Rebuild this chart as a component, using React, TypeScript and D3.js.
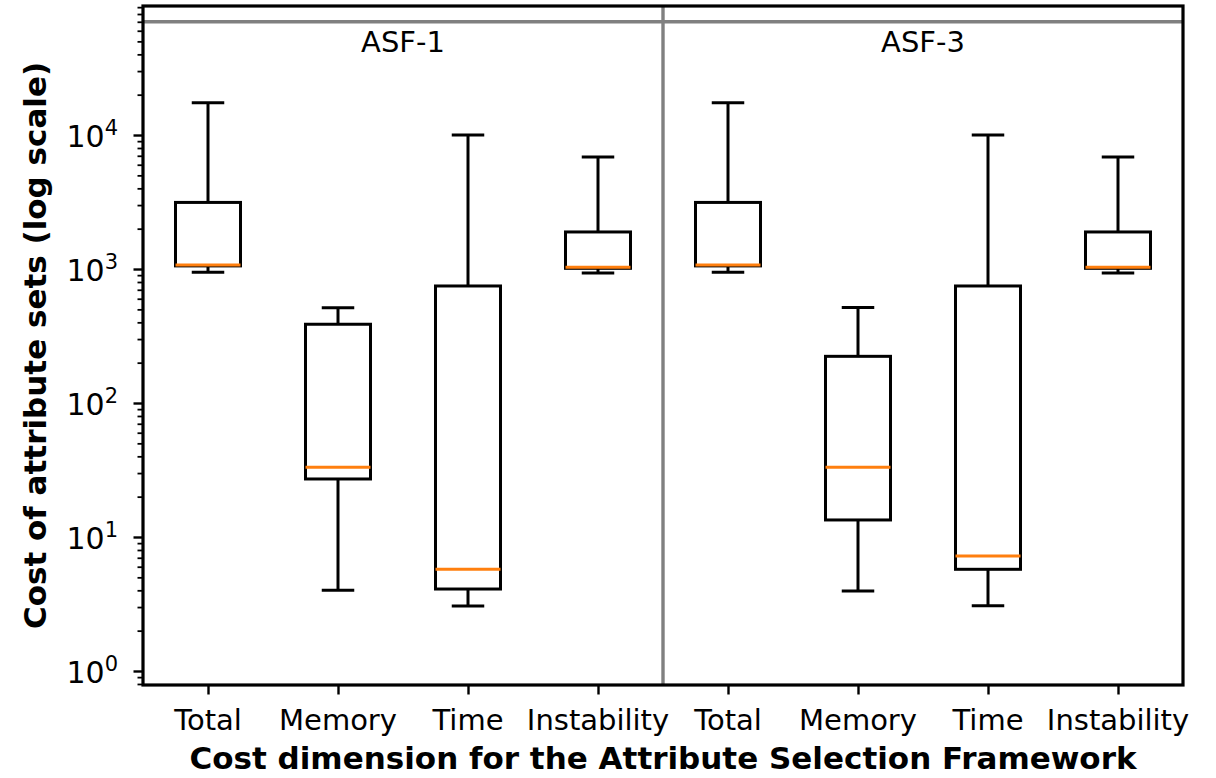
import { useEffect, useRef } from 'react'
import * as d3 from 'd3'

const categories = ['Total', 'Memory', 'Time', 'Instability']
const frameworks = ['ASF-1', 'ASF-3']

// five-number summaries, in category order
const asf1Low = [945, 4.0, 3.05, 933]
const asf1Q1 = [1055, 27.1, 4.09, 1012]
const asf1Median = [1071, 33.1, 5.74, 1030]
const asf1Q3 = [3140, 387, 747, 1890]
const asf1High = [17400, 514, 10000, 6850]

const asf3Low = [945, 3.95, 3.07, 933]
const asf3Q1 = [1055, 13.4, 5.74, 1012]
const asf3Median = [1071, 33.1, 7.21, 1030]
const asf3Q3 = [3140, 223, 747, 1890]
const asf3High = [17400, 517, 10000, 6850]

const yDomain = [0.786, 91800]
const majorTicks = [1, 10, 100, 1000, 10000]
const separatorValue = 70000
const separatorPos = 4.5

const FONT = '"DejaVu Sans", sans-serif'

export default function App() {
  const svgRef = useRef<SVGSVGElement>(null)

  useEffect(() => {
    if (!svgRef.current) return
    document.body.style.margin = '0'

    const width = 1216
    const height = 778
    const margin = { top: 6, right: 33, bottom: 93, left: 143 }
    const innerW = width - margin.left - margin.right
    const innerH = height - margin.top - margin.bottom

    const svg = d3.select(svgRef.current)
    svg.selectAll('*').remove()
    svg.attr('width', width).attr('height', height)

    const g = svg.append('g').attr('transform', `translate(${margin.left},${margin.top})`)

    const x = d3.scaleLinear().domain([0.5, 8.5]).range([0, innerW])
    const y = d3.scaleLog().domain(yDomain).range([innerH, 0])

    const stats = [
      { low: asf1Low, q1: asf1Q1, med: asf1Median, q3: asf1Q3, high: asf1High },
      { low: asf3Low, q1: asf3Q1, med: asf3Median, q3: asf3Q3, high: asf3High },
    ]
    const boxes = stats.flatMap((s, fi) => categories.map((c, ci) => ({
      pos: fi * categories.length + ci + 1,
      label: c,
      low: s.low[ci], q1: s.q1[ci], med: s.med[ci], q3: s.q3[ci], high: s.high[ci],
    })))

    // separators
    g.append('line')
      .attr('x1', 0).attr('x2', innerW)
      .attr('y1', y(separatorValue)).attr('y2', y(separatorValue))
      .attr('stroke', '#808080').attr('stroke-width', 3.4)
    g.append('line')
      .attr('x1', x(separatorPos)).attr('x2', x(separatorPos))
      .attr('y1', 0).attr('y2', innerH)
      .attr('stroke', '#808080').attr('stroke-width', 3.4)

    // framework titles
    frameworks.forEach((fw, i) => {
      g.append('text')
        .attr('x', x(i * 4 + 2.5)).attr('y', 52 - margin.top)
        .attr('text-anchor', 'middle')
        .attr('font-family', FONT).attr('font-size', 29).attr('fill', '#000')
        .text(fw)
    })

    // boxes
    const boxW = x(1.5) - x(1)
    const capW = boxW / 2
    const lw = 3
    boxes.forEach(b => {
      const cx = x(b.pos)
      const bg = g.append('g')
      bg.append('line').attr('x1', cx).attr('x2', cx).attr('y1', y(b.q3)).attr('y2', y(b.high))
        .attr('stroke', '#000').attr('stroke-width', lw)
      bg.append('line').attr('x1', cx).attr('x2', cx).attr('y1', y(b.q1)).attr('y2', y(b.low))
        .attr('stroke', '#000').attr('stroke-width', lw)
      ;[b.high, b.low].forEach(v => {
        bg.append('line').attr('x1', cx - capW / 2).attr('x2', cx + capW / 2)
          .attr('y1', y(v)).attr('y2', y(v))
          .attr('stroke', '#000').attr('stroke-width', lw)
      })
      bg.append('rect')
        .attr('x', cx - boxW / 2).attr('width', boxW)
        .attr('y', y(b.q3)).attr('height', y(b.q1) - y(b.q3))
        .attr('fill', 'none').attr('stroke', '#000').attr('stroke-width', lw)
      bg.append('line').attr('x1', cx - boxW / 2).attr('x2', cx + boxW / 2)
        .attr('y1', y(b.med)).attr('y2', y(b.med))
        .attr('stroke', '#ff7f0e').attr('stroke-width', lw)
    })

    // minor ticks
    const minorTicks: number[] = []
    ;[0.1, 1, 10, 100, 1000, 10000].forEach(d => {
      for (let m = 2; m <= 9; m++) {
        const v = m * d
        if (v >= yDomain[0] && v <= yDomain[1]) minorTicks.push(v)
      }
    })
    g.append('g')
      .call(d3.axisLeft(y).tickValues(minorTicks).tickSize(5.5).tickFormat(() => ''))
      .call(ax => ax.select('.domain').remove())
      .selectAll('line').attr('stroke', '#000').attr('stroke-width', 1.8)

    // y axis
    const yAx = g.append('g')
      .call(d3.axisLeft(y).tickValues(majorTicks).tickSize(9.5).tickFormat(() => ''))
    yAx.select('.domain').remove()
    yAx.selectAll('line').attr('stroke', '#000').attr('stroke-width', 2.4)
    majorTicks.forEach(v => {
      const t = g.append('text')
        .attr('x', -25).attr('y', y(v) + 12)
        .attr('text-anchor', 'end')
        .attr('font-family', FONT).attr('font-size', 30).attr('fill', '#000')
      t.append('tspan').text('10')
      t.append('tspan').attr('dy', -12).attr('font-size', 21).text(String(Math.round(Math.log10(v))))
    })

    // x axis
    const xAx = g.append('g').attr('transform', `translate(0,${innerH})`)
      .call(d3.axisBottom(x).tickValues(boxes.map(b => b.pos)).tickSize(9.5).tickFormat(() => ''))
    xAx.select('.domain').remove()
    xAx.selectAll('line').attr('stroke', '#000').attr('stroke-width', 2.4)
    boxes.forEach(b => {
      g.append('text')
        .attr('x', x(b.pos)).attr('y', 730 - margin.top)
        .attr('text-anchor', 'middle')
        .attr('font-family', FONT).attr('font-size', 29).attr('fill', '#000')
        .text(b.label)
    })

    // spines
    g.append('rect')
      .attr('x', 0).attr('y', 0).attr('width', innerW).attr('height', innerH)
      .attr('fill', 'none').attr('stroke', '#000').attr('stroke-width', 3.2)

    // axis labels
    svg.append('text')
      .attr('x', margin.left + innerW / 2).attr('y', 769)
      .attr('text-anchor', 'middle')
      .attr('font-family', FONT).attr('font-size', 31).attr('font-weight', 'bold').attr('fill', '#000')
      .text('Cost dimension for the Attribute Selection Framework')
    svg.append('text')
      .attr('transform', `translate(46,${margin.top + innerH / 2}) rotate(-90)`)
      .attr('text-anchor', 'middle')
      .attr('font-family', FONT).attr('font-size', 31).attr('font-weight', 'bold').attr('fill', '#000')
      .text('Cost of attribute sets (log scale)')
  }, [])

  return (
    <div>
      <svg ref={svgRef} />
    </div>
  )
}
